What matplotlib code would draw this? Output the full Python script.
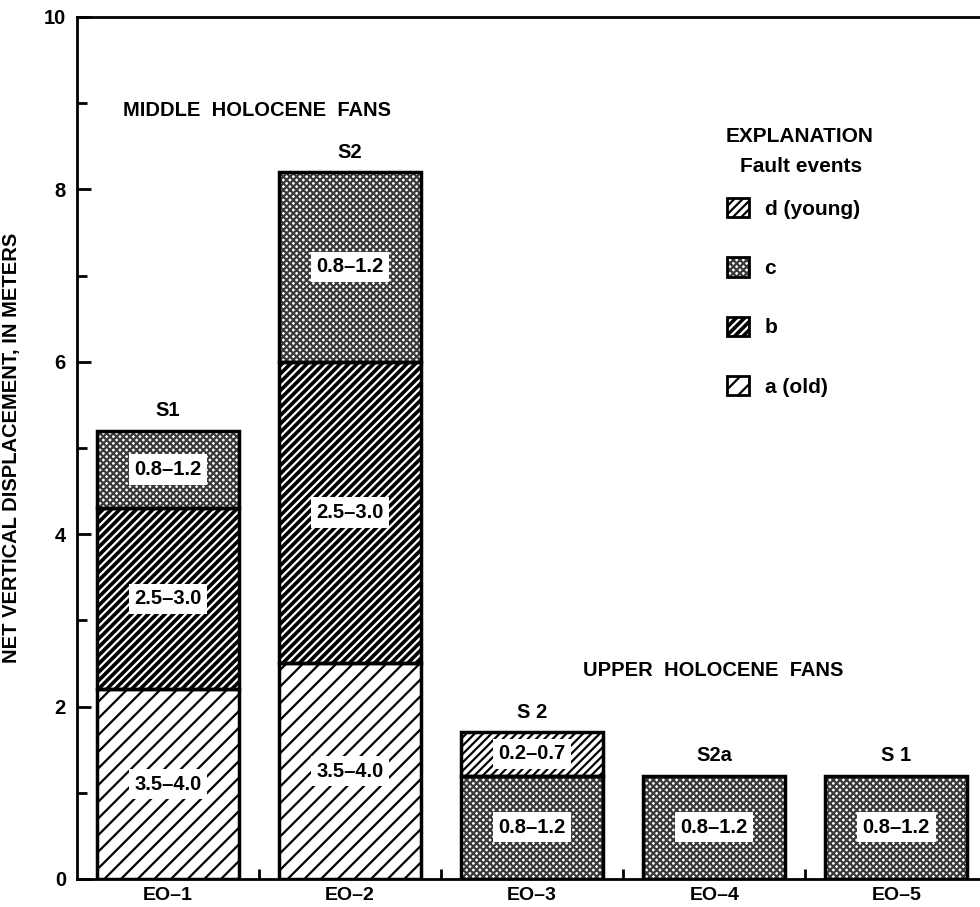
import matplotlib
matplotlib.use("Agg")
import matplotlib.pyplot as plt
from matplotlib.patches import Patch

plt.rcParams['font.family'] = ['Liberation Sans', 'DejaVu Sans']
plt.rcParams['font.weight'] = 'bold'
plt.rcParams['hatch.linewidth'] = 1.6

sites = ["EO-1", "EO-2", "EO-3", "EO-4", "EO-5"]
site_labels = ["EO\u20131", "EO\u20132", "EO\u20133", "EO\u20134", "EO\u20135"]
surfaces = ["S1", "S2", "S 2", "S2a", "S 1"]

# net vertical displacement per fault event (m)
disp_a = [2.2, 2.5, 0.0, 0.0, 0.0]
disp_b = [2.1, 3.5, 0.0, 0.0, 0.0]
disp_c = [0.9, 2.2, 1.2, 1.2, 1.2]
disp_d = [0.0, 0.0, 0.5, 0.0, 0.0]

# age ranges (ka) written on each segment
range_a = "3.5\u20134.0"
range_b = "2.5\u20133.0"
range_c = "0.8\u20131.2"
range_d = "0.2\u20130.7"

# fill styles: (face, hatch colour, hatch)
styles = {
    "a": ("white", "black", "//"),
    "b": ("black", "white", "////"),
    "c": ("white", "#3a3a3a", "xxxxx"),
    "d": ("white", "black", "////"),
}

fig = plt.figure(figsize=(9.8, 9.07), dpi=100)
ax = fig.add_axes([0.0786, 0.0309, 1 - 0.0786, 0.9504])

x = list(range(len(sites)))
w = 0.78
bottom = [0.0] * len(sites)
segments = [("a", disp_a, range_a), ("b", disp_b, range_b),
            ("c", disp_c, range_c), ("d", disp_d, range_d)]

for key, vals, txt in segments:
    face, hcol, hatch = styles[key]
    for i, v in enumerate(vals):
        if v <= 0:
            continue
        ax.bar(x[i], v, w, bottom=bottom[i], color=face, edgecolor=hcol,
               hatch=hatch, linewidth=0, zorder=2)
        ax.bar(x[i], v, w, bottom=bottom[i], fill=False, edgecolor="black",
               linewidth=2.5, zorder=3)
        ax.text(x[i], bottom[i] + v / 2, txt, ha="center", va="center",
                fontsize=14.5, zorder=4,
                bbox=dict(facecolor="white", edgecolor="none", pad=4))
        bottom[i] += v

for i, s in enumerate(surfaces):
    ax.text(x[i], bottom[i] + 0.12, s, ha="center", va="bottom", fontsize=14.5)

ax.set_xlim(-0.5, 4.46)
ax.set_ylim(0, 10)
ax.set_xticks(x)
ax.set_xticklabels(site_labels, fontsize=14)
ax.set_xticks([0.5, 1.5, 2.5, 3.5], minor=True)
ax.tick_params(axis="x", which="major", length=0, pad=6)
ax.tick_params(axis="x", which="minor", direction="in", length=7, width=2)
ax.set_yticks([0, 2, 4, 6, 8, 10])
ax.set_yticks([1, 3, 5, 7, 9], minor=True)
ax.tick_params(axis="y", which="major", direction="in", length=10, width=2,
               labelsize=14.5, pad=8)
ax.tick_params(axis="y", which="minor", direction="in", length=7, width=2)
for sp in ["left", "top", "bottom"]:
    ax.spines[sp].set_linewidth(2)
ax.spines["right"].set_visible(False)

ax.set_ylabel("NET VERTICAL DISPLACEMENT, IN METERS", fontsize=14.5,
              fontweight="bold", labelpad=16)

ax.text(-0.25, 8.91, "MIDDLE  HOLOCENE  FANS", fontsize=14.5, va="center")
ax.text(2.28, 2.42, "UPPER  HOLOCENE  FANS", fontsize=14.5, va="center")

fig.text(726 / 980, 1 - 136 / 907, "EXPLANATION", fontsize=15, va="center")
fig.text(740 / 980, 1 - 166 / 907, "Fault events", fontsize=15, va="center")

handles = []
for key in ["d", "c", "b", "a"]:
    face, hcol, hatch = styles[key]
    p1 = Patch(facecolor=face, edgecolor=hcol, hatch=hatch, linewidth=0)
    p2 = Patch(fill=False, edgecolor="black", linewidth=2)
    handles.append((p1, p2))
labels = ["d (young)", "c", "b", "a (old)"]
fig.legend(handles, labels, loc="upper left",
           bbox_to_anchor=(727 / 980, 1 - 198 / 907), frameon=False,
           fontsize=15, handlelength=1.05, handleheight=1.05,
           handletextpad=0.75, labelspacing=1.85, borderpad=0, borderaxespad=0)

fig.savefig("out.png", dpi=100)
